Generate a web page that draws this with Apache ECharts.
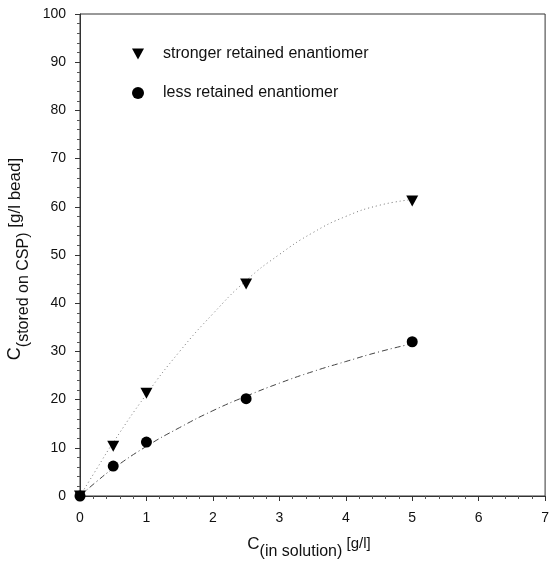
<!DOCTYPE html>
<html><head><meta charset="utf-8">
<script src="https://cdn.jsdelivr.net/npm/echarts@6/dist/echarts.min.js"></script>
<style>html,body{margin:0;padding:0;background:#fff}#c{width:552px;height:561px}</style>
</head><body><div id="c"></div>
<script>
// Measured points
const xPoints = [0, 0.5, 1, 2.5, 5];
const strongerValues = [0, 10.3, 21.3, 44, 61.2];
const lessValues = [0, 6.2, 11.2, 20.2, 32];
// Fitted curves
const curveX = [0, 0.25, 0.5, 1, 1.5, 2, 2.5, 3, 3.5, 4, 4.5, 5];
const strongerCurve = [0, 5.6, 11.1, 21.1, 30, 37.8, 44.7, 50.1, 54.6, 58, 60.3, 61.5];
const lessCurve = [0, 3.0, 5.7, 10.3, 14.2, 17.7, 20.7, 23.4, 25.8, 27.9, 29.9, 31.6];
const seriesNames = ['stronger retained enantiomer', 'less retained enantiomer'];
const xTicks = [0, 1, 2, 3, 4, 5, 6, 7];
const yTicks = [0, 10, 20, 30, 40, 50, 60, 70, 80, 90, 100];

const FONT = 'Liberation Sans, Arial, sans-serif';
const TRI = 'path://M0,0 L12,0 L6,11 Z';
const zip = (xs, ys) => xs.map((x, i) => [x, ys[i]]);

const chart = echarts.init(document.getElementById('c'), null, {renderer: 'canvas'});
chart.setOption({
  animation: false,
  backgroundColor: '#fff',
  grid: {left: 80, top: 14, right: 5, bottom: 65, show: true, borderColor: '#333', borderWidth: 1},
  xAxis: {
    type: 'value', min: xTicks[0], max: xTicks[xTicks.length - 1], interval: 1,
    axisLine: {lineStyle: {color: '#333', width: 1}},
    axisTick: {show: true, length: 5, lineStyle: {color: '#333'}},
    minorTick: {show: true, splitNumber: 5, length: 3, lineStyle: {color: '#555'}},
    splitLine: {show: false},
    axisLabel: {color: '#111', fontFamily: FONT, fontSize: 14, margin: 15}
  },
  yAxis: {
    type: 'value', min: yTicks[0], max: yTicks[yTicks.length - 1], interval: 10,
    axisLine: {lineStyle: {color: '#333', width: 1}},
    axisTick: {show: true, length: 5, lineStyle: {color: '#333'}},
    minorTick: {show: true, splitNumber: 5, length: 3, lineStyle: {color: '#555'}},
    splitLine: {show: false},
    axisLabel: {color: '#111', fontFamily: FONT, fontSize: 14, margin: 14}
  },
  legend: {
    orient: 'vertical', left: 127, top: 41, itemGap: 23, itemWidth: 12, itemHeight: 12,
    textStyle: {color: '#111', fontFamily: FONT, fontSize: 16, padding: [0, 0, 0, 14]},
    data: [{name: seriesNames[0], icon: TRI}, {name: seriesNames[1], icon: 'circle'}]
  },
  series: [
    {type: 'line', data: zip(curveX, strongerCurve), smooth: true, symbol: 'none', silent: true,
     lineStyle: {color: '#777', width: 1, type: [1, 3]}, z: 1},
    {type: 'line', data: zip(curveX, lessCurve), smooth: true, symbol: 'none', silent: true,
     lineStyle: {color: '#444', width: 1, type: [6, 3, 1, 3]}, z: 1},
    {name: seriesNames[0], type: 'scatter', data: zip(xPoints, strongerValues), symbol: TRI,
     symbolSize: [12, 11], itemStyle: {color: '#000', opacity: 1}, z: 3},
    {name: seriesNames[1], type: 'scatter', data: zip(xPoints, lessValues), symbol: 'circle',
     symbolSize: 11, itemStyle: {color: '#000', opacity: 1}, z: 4}
  ],
  graphic: [
    {type: 'text', x: 309, y: 548, style: {
      text: '{c|C}{s|(in solution)}{n| [g/l]}', fill: '#111', font: '16px ' + FONT,
      align: 'center', verticalAlign: 'middle',
      rich: {c: {fontSize: 17, fontFamily: FONT, verticalAlign: 'top', lineHeight: 24},
             s: {fontSize: 16, fontFamily: FONT, verticalAlign: 'bottom', lineHeight: 24},
             n: {fontSize: 15, fontFamily: FONT, verticalAlign: 'top', lineHeight: 24}}}},
    {type: 'text', x: 19, y: 259, rotation: Math.PI / 2, style: {
      text: '{c|C}{s|(stored on CSP)}{n| [g/l bead]}', fill: '#111', font: '16px ' + FONT,
      align: 'center', verticalAlign: 'middle',
      rich: {c: {fontSize: 18, fontFamily: FONT, verticalAlign: 'top', lineHeight: 25},
             s: {fontSize: 16, fontFamily: FONT, verticalAlign: 'bottom', lineHeight: 25},
             n: {fontSize: 17, fontFamily: FONT, verticalAlign: 'top', lineHeight: 25}}}}
  ]
});
</script></body></html>
